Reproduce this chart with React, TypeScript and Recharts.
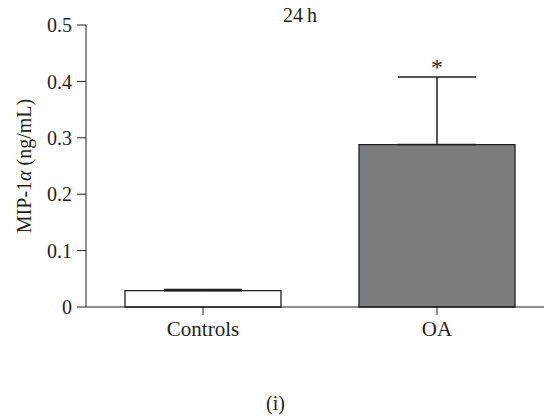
import { BarChart, Bar, XAxis, YAxis, ErrorBar, Cell, ReferenceDot, Label } from 'recharts'

const categories = ['Controls', 'OA']
const means = [0.029, 0.288]
const errors = [0.002, 0.12]
const fills = ['#ffffff', '#7b7c80']
const yTicks = [0, 0.1, 0.2, 0.3, 0.4, 0.5]
const significance = ['', '*']

const data = categories.map((name, i) => ({
  name,
  value: means[i],
  err: [0, errors[i]],
  top: means[i] + errors[i],
  sig: significance[i],
}))

const font = '"Liberation Serif", "Times New Roman", serif'
const ink = '#231f20'

export default function App() {
  const tickStyle = { fontFamily: font, fontSize: 20, fill: ink }
  return (
    <div
      style={{
        position: 'fixed',
        left: 0,
        top: 0,
        width: 544,
        height: 418,
        overflow: 'hidden',
        background: '#fff',
      }}
    >
      <BarChart
        width={560}
        height={418}
        data={data}
        margin={{ top: 25, right: 6, left: 0, bottom: 81 }}
        barCategoryGap={0}
      >
        <XAxis
          dataKey="name"
          stroke={ink}
          tickSize={8}
          tickMargin={6}
          tick={{ ...tickStyle, fontSize: 21 }}
        />
        <YAxis
          width={86}
          domain={[0, 0.5]}
          ticks={yTicks}
          tickFormatter={(v) => (v === 0 ? '0' : v.toFixed(1))}
          stroke={ink}
          tickSize={9}
          tickMargin={5}
          tick={tickStyle}
        >
          <Label
            content={({ viewBox }: any) => {
              const cy = viewBox.y + viewBox.height / 2
              return (
                <text
                  x={24}
                  y={cy}
                  transform={`rotate(-90 24 ${cy})`}
                  textAnchor="middle"
                  dominantBaseline="central"
                  style={{ fontFamily: font, fontSize: 20, fill: ink }}
                >
                  MIP-1<tspan fontStyle="italic">α</tspan> (ng/mL)
                </text>
              )
            }}
          />
        </YAxis>
        <Bar dataKey="value" barSize={156} stroke={ink} strokeWidth={1.3} isAnimationActive={false}>
          {data.map((d, i) => (
            <Cell key={d.name} fill={fills[i]} />
          ))}
          <ErrorBar dataKey="err" width={39} stroke={ink} strokeWidth={1.5} direction="y" isAnimationActive={false} />
        </Bar>
        {data
          .filter((d) => d.sig)
          .map((d) => (
            <ReferenceDot
              key={d.name}
              x={d.name}
              y={d.top}
              r={0}
              stroke="none"
              fill="none"
              label={{ value: d.sig, position: 'top', offset: 2, style: { fontFamily: font, fontSize: 24, fill: ink } }}
            />
          ))}
      </BarChart>
      <div
        style={{
          position: 'absolute',
          left: 283,
          top: 4,
          fontFamily: font,
          fontSize: 20,
          color: ink,
          whiteSpace: 'nowrap',
        }}
      >
        24{'\u2009'}h
      </div>
      <div
        style={{
          position: 'absolute',
          left: 266,
          top: 392,
          fontFamily: font,
          fontSize: 20,
          color: ink,
        }}
      >
        (i)
      </div>
    </div>
  )
}
